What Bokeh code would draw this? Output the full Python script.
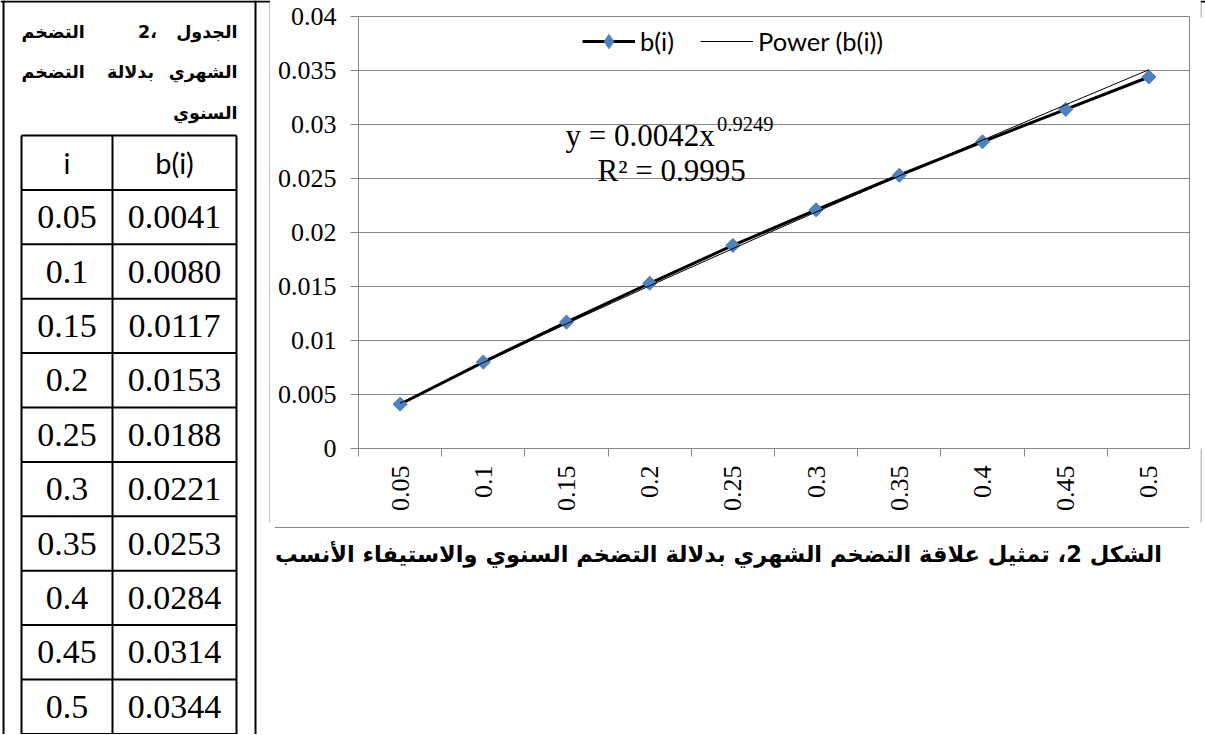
import math
import numpy as np
from bokeh.plotting import figure
from bokeh.models import (Range1d, FixedTicker, Label, Legend, LegendItem,
                          ColumnDataSource, CustomJSTickFormatter, Div)
from bokeh.layouts import row, column
from bokeh.core.properties import value
from bokeh.embed import file_html
from bokeh.resources import INLINE

# ---------------- data ----------------
i_labels = ["0.05", "0.1", "0.15", "0.2", "0.25", "0.3", "0.35", "0.4", "0.45", "0.5"]
b_values = [0.0041, 0.0080, 0.0117, 0.0153, 0.0188, 0.0221, 0.0253, 0.0284, 0.0314, 0.0344]
y_ticks = [0, 0.005, 0.01, 0.015, 0.02, 0.025, 0.03, 0.035, 0.04]
y_tick_labels = ["0", "0.005", "0.01", "0.015", "0.02", "0.025", "0.03", "0.035", "0.04"]
eq_coef = "0.0042"
eq_exp = "0.9249"
eq_r2 = "0.9995"
series_name = "b(i)"
trend_name = "Power (b(i))"
table_header = ["i", "b(i)"]
title_line1 = ["الجدول", "2،", "التضخم"]
title_line2 = ["الشهري", "بدلالة", "التضخم"]
title_line3 = ["السنوي"]
caption_text = "الشكل 2، تمثيل علاقة التضخم الشهري بدلالة التضخم السنوي والاستيفاء الأنسب"

GRAY = "#868686"
BLUE = "#4F81BD"
SERIF = "Liberation Serif"
ARABIC = "DejaVu Sans"

n = len(i_labels)
xpos = [k + 0.5 for k in range(n)]
kx = np.arange(1, n + 1)
slope, icpt = np.polyfit(np.log(kx), np.log(b_values), 1)
trend = list(np.exp(icpt) * kx ** slope)

# ---------------- chart ----------------
p = figure(width=920, height=522, x_range=Range1d(0, n), y_range=Range1d(0, 0.04),
           output_backend="svg", toolbar_location=None,
           min_border_left=88, min_border_right=0, min_border_top=16, min_border_bottom=74,
           background_fill_color="white", border_fill_color="white",
           outline_line_color=GRAY, outline_line_width=1)

fmt_js = """
let best = 0;
for (let i = 0; i < tv.length; i++) {
  if (Math.abs(tv[i] - tick) < Math.abs(tv[best] - tick)) best = i;
}
return labs[best];
"""
xa = p.xaxis[0]
xa.ticker = FixedTicker(ticks=xpos, minor_ticks=list(range(n + 1)))
xa.formatter = CustomJSTickFormatter(args=dict(tv=xpos, labs=i_labels), code=fmt_js)
xa.major_tick_out = 0
xa.major_tick_in = 0
xa.major_tick_line_color = None
xa.minor_tick_out = 8
xa.minor_tick_in = 0
xa.minor_tick_line_color = GRAY
xa.axis_line_color = GRAY
xa.major_label_orientation = math.pi / 2
xa.major_label_standoff = 9
xa.major_label_text_font = SERIF
xa.major_label_text_font_size = "26px"
xa.major_label_text_color = "black"

ya = p.yaxis[0]
ya.ticker = FixedTicker(ticks=y_ticks)
ya.formatter = CustomJSTickFormatter(args=dict(tv=y_ticks, labs=y_tick_labels), code=fmt_js)
ya.major_tick_out = 8
ya.major_tick_in = 0
ya.major_tick_line_color = GRAY
ya.minor_tick_line_color = None
ya.axis_line_color = GRAY
ya.major_label_standoff = 14
ya.major_label_text_font = SERIF
ya.major_label_text_font_size = "26px"
ya.major_label_text_color = "black"

p.xgrid.visible = False
p.ygrid.grid_line_color = GRAY
p.ygrid.grid_line_width = 1

src = ColumnDataSource(dict(x=xpos, b=b_values, t=trend))
r_line = p.line("x", "b", source=src, line_color="black", line_width=3)
r_mark = p.scatter("x", "b", source=src, marker="square", angle=math.pi / 4, size=10,
                   fill_color=BLUE, line_color=BLUE)
r_trend = p.line("x", "t", source=src, line_color="black", line_width=1)
# legend key marker: hidden in the plot (markers there are rotated squares)
r_key = p.scatter("x", "b", source=src, marker="diamond", size=15,
                  fill_color=BLUE, line_color=BLUE, visible=False)

legend = Legend(items=[LegendItem(label=series_name, renderers=[r_line, r_key]),
                       LegendItem(label=trend_name, renderers=[r_trend])],
                location=(224, 389), orientation="horizontal",
                glyph_width=53, glyph_height=36, label_height=24, label_standoff=5,
                spacing=26, padding=0, margin=0, border_line_color=None,
                background_fill_alpha=0, inactive_fill_alpha=0, label_text_font="Lato",
                label_text_font_size="25.5px", label_text_color="black")
p.add_layout(legend)

p.add_layout(Label(x=2.488, y=0.02896, text="y = " + eq_coef + "x", text_font=SERIF,
                   text_font_size="31px", text_baseline="alphabetic", text_color="black"))
p.add_layout(Label(x=4.31, y=0.03007, text=eq_exp, text_font=SERIF,
                   text_font_size="20.5px", text_baseline="alphabetic", text_color="black"))
p.add_layout(Label(x=2.873, y=0.02577, text="R² = " + eq_r2, text_font=SERIF,
                   text_font_size="31px", text_baseline="alphabetic", text_color="black"))

# ---------------- helpers ----------------
def blank(w, h, xr, yr):
    f = figure(width=w, height=h, x_range=Range1d(*xr), y_range=Range1d(*yr),
               output_backend="svg", toolbar_location=None, min_border=0,
               outline_line_color=None, background_fill_color="white",
               border_fill_color="white")
    f.axis.visible = False
    f.grid.visible = False
    return f

# ---------------- left cell: table ----------------
L = blank(270, 734, (0, 270), (734, 0))
row_top = 135.0
row_h = 54.4
col_x = [21, 112, 236]
n_rows = n + 1
hl_y = [row_top + row_h * k for k in range(n_rows + 1)]
L.segment(x0=[col_x[0]] * len(hl_y), x1=[col_x[-1]] * len(hl_y), y0=hl_y, y1=hl_y,
          line_color="black", line_width=2)
L.segment(x0=col_x, x1=col_x, y0=[hl_y[0]] * 3, y1=[hl_y[-1]] * 3,
          line_color="black", line_width=2)
L.segment(x0=[3, 255, 0], x1=[3, 255, 270], y0=[0, 0, 1], y1=[740, 740, 1],
          line_color="black", line_width=2)
L.segment(x0=[269.5], x1=[269.5], y0=[2], y1=[522], line_color=GRAY, line_width=1)

c1 = (col_x[0] + col_x[1]) / 2
c2 = (col_x[1] + col_x[2]) / 2
hy = row_top + row_h / 2
L.text(x=[c1, c2], y=[hy, hy], text=table_header, text_font=value("Lato"),
       text_font_size="29px", text_align="center", text_baseline="middle", text_color="black")
ry = [row_top + row_h * (k + 1.5) for k in range(n)]
L.text(x=[c1] * n, y=ry, text=i_labels, text_font=value(SERIF), text_font_size="34px",
       text_align="center", text_baseline="middle", text_color="black")
L.text(x=[c2] * n, y=ry, text=["%.4f" % v for v in b_values], text_font=value(SERIF),
       text_font_size="34px", text_align="center", text_baseline="middle", text_color="black")

ty = [31, 71, 112]
AR = dict(text_font=value(ARABIC), text_font_style="bold", text_font_size="17.5px",
          text_baseline="middle", text_color="black")
L.text(x=[237, 237, 237], y=ty, text=[title_line1[0], title_line2[0], title_line3[0]],
       text_align="right", **AR)
L.text(x=[147, 130], y=ty[:2], text=[title_line1[1], title_line2[1]], text_align="center", **AR)
L.text(x=[21, 21], y=ty[:2], text=[title_line1[2], title_line2[2]], text_align="left", **AR)

# ---------------- caption under chart ----------------
C = Div(width=920, height=212,
        text=('<div style="border-top:1px solid %s;padding-top:13px;padding-right:27px;'
              'text-align:right;direction:rtl;white-space:nowrap;font-family:\'%s\';'
              'font-weight:bold;font-size:22.5px;line-height:27px;color:#000;">%s</div>')
             % (GRAY, ARABIC, caption_text))

# ---------------- right strip ----------------
R = blank(14, 734, (1190, 1204), (734, 0))
R.segment(x0=[1190], x1=[1204], y0=[1], y1=[1], line_color="black", line_width=2)
R.segment(x0=[1190.5, 1190.5], x1=[1190.5, 1190.5], y0=[2, 448], y1=[17, 522],
          line_color=GRAY, line_width=1)

layout = row(L, column(p, C, spacing=0), R, spacing=0)
open("out.html", "w").write(file_html(layout, INLINE))
